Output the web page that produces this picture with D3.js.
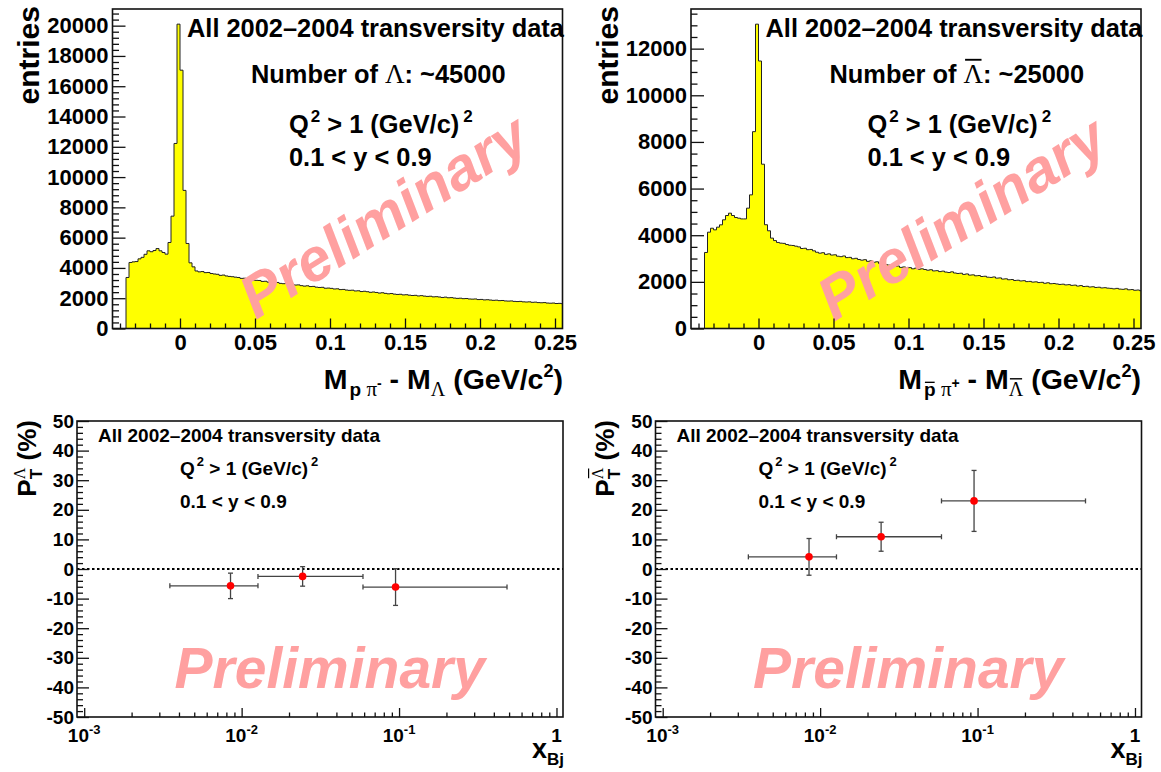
<!DOCTYPE html>
<html><head><meta charset="utf-8">
<script src="https://cdn.jsdelivr.net/npm/d3@7"></script>
<style>
html,body{margin:0;padding:0;background:#fff;}
svg{display:block;}
</style></head><body>
<svg id="c" width="1161" height="772"></svg>
<script>
// ---------------- data ----------------
const binStart = -0.036;
const binWidth = 0.002;
const lambdaCounts = [
 3370,4360,4400,4420,4600,4700,4900,5130,5070,5150,
 5280,5130,5020,4910,5680,7420,12220,20100,17060,9120,
 5615,4335,4070,3800,3740,3760,3690,3700,3630,3600,
 3580,3510,3530,3470,3440,3420,3390,3370,3310,3320,
 3270,3250,3190,3180,3170,3110,3120,3060,3070,3030,
 3040,2980,2960,2970,2910,2920,2870,2880,2830,2800,
 2820,2770,2780,2730,2710,2720,2660,2670,2650,2610,
 2620,2570,2580,2540,2520,2530,2480,2490,2440,2460,
 2430,2390,2410,2380,2340,2360,2320,2290,2310,2270,
 2250,2260,2220,2230,2200,2180,2190,2150,2170,2140,
 2120,2130,2090,2100,2080,2050,2070,2030,2040,2010,
 1990,2000,1970,1980,1950,1940,1950,1910,1920,1890,
 1900,1880,1860,1870,1840,1850,1820,1810,1820,1790,
 1780,1790,1760,1750,1760,1730,1740,1710,1700,1710,
 1680,1670,1680,1650,1660,1640];
const antiLambdaCounts = [
 3260,4130,4300,4230,4345,4445,4660,4845,4945,4845,
 4760,4730,4700,4700,5160,5730,8440,13050,11470,7045,
 4450,4190,3875,3770,3690,3660,3650,3600,3570,3560,
 3530,3500,3430,3440,3380,3390,3330,3270,3230,3250,
 3180,3200,3150,3160,3100,3080,3110,3040,3050,2990,
 3010,2960,2930,2950,2880,2900,2840,2860,2790,2810,
 2740,2720,2700,2660,2680,2620,2640,2600,2610,2560,
 2590,2540,2560,2530,2500,2520,2470,2480,2440,2460,
 2420,2400,2430,2380,2360,2370,2320,2340,2290,2300,
 2260,2270,2230,2240,2200,2190,2210,2160,2170,2120,
 2130,2090,2100,2060,2070,2040,2050,2010,2020,1990,
 2000,1970,1980,1940,1960,1920,1930,1910,1890,1900,
 1870,1880,1850,1860,1820,1840,1800,1810,1780,1790,
 1760,1770,1740,1750,1730,1720,1700,1720,1690,1680,
 1700,1660,1670,1640,1650,1620];
const massTicks = [0, 0.05, 0.1, 0.15, 0.2, 0.25];
const lambdaEntryTicks = [0,2000,4000,6000,8000,10000,12000,14000,16000,18000,20000];
const antiEntryTicks = [0,2000,4000,6000,8000,10000,12000];
const xBj = [0.0085, 0.0244, 0.095];
const xBjLow = [0.0035, 0.0127, 0.059];
const xBjHigh = [0.0127, 0.059, 0.485];
const polLambda = [-5.7, -2.5, -6.1];
const polLambdaErr = [4.3, 3.3, 6.2];
const polAntiLambda = [4.1, 10.9, 23.0];
const polAntiLambdaErr = [6.2, 4.9, 10.3];
const polTicks = [-50,-40,-30,-20,-10,0,10,20,30,40,50];
const xBjDecades = [0.001, 0.01, 0.1, 1];
const xBjDecadeExp = ['-3','-2','-1',''];

// ---------------- helpers ----------------
const svg = d3.select('#c');
const FONT = '"Liberation Sans", Arial, Helvetica, sans-serif';
const SERIF = '"Liberation Serif", "DejaVu Serif", serif';
const INK = '#111';

function rich(parent, x, y, segs, o) {
  o = Object.assign({size: 20, weight: 'bold', fill: '#000', anchor: 'start', rotate: 0, style: 'normal'}, o);
  const outer = parent.append('g').attr('transform', `translate(${x},${y}) rotate(${o.rotate})`);
  const g = outer.append('g');
  let cx = 0, lastStart = 0;
  segs.forEach(s => {
    const size = s.size || o.size;
    const sx = s.stack ? lastStart : cx + (s.dx || 0);
    const t = g.append('text')
      .attr('x', sx).attr('y', s.dy || 0)
      .attr('font-family', s.serif ? SERIF : FONT)
      .attr('font-size', size)
      .attr('font-weight', s.weight || (s.serif ? 'normal' : o.weight))
      .attr('font-style', s.style || o.style)
      .attr('fill', o.fill)
      .style('white-space', 'pre')
      .text(s.t);
    const w = t.node().getComputedTextLength();
    if (s.over) {
      const oy = (s.dy || 0) - size * (s.overH || 0.82);
      g.append('line').attr('x1', sx + w * 0.08).attr('x2', sx + w * 0.92)
        .attr('y1', oy).attr('y2', oy)
        .attr('stroke', o.fill).attr('stroke-width', Math.max(1.2, size * 0.07));
    }
    if (!s.stack) lastStart = sx;
    cx = Math.max(cx, sx + w);
  });
  const shift = o.anchor === 'end' ? -cx : (o.anchor === 'middle' ? -cx / 2 : 0);
  g.attr('transform', `translate(${shift},0)`);
  return outer;
}

function styleAxis(sel, fontSize) {
  sel.select('.domain').remove();
  sel.selectAll('line').attr('stroke', INK).attr('stroke-width', 1.3);
  sel.selectAll('text').attr('font-family', FONT).attr('font-weight', 'bold')
    .attr('font-size', fontSize).attr('fill', '#000');
  sel.attr('font-family', null).attr('font-size', null);
}

function frame(P) {
  svg.append('rect').attr('x', P.l).attr('y', P.t).attr('width', P.r - P.l).attr('height', P.b - P.t)
    .attr('fill', 'none').attr('stroke', INK).attr('stroke-width', 1.6);
}

// ---------------- histogram panels ----------------
function histPanel(P, counts, yMax, id) {
  const x = d3.scaleLinear().domain([-0.045, 0.255]).range([P.l, P.r]);
  const y = d3.scaleLinear().domain([0, yMax]).range([P.b, P.t]);
  const pts = counts.map((c, i) => ({e: binStart + i * binWidth, v: c}));
  pts.push({e: binStart + counts.length * binWidth, v: counts[counts.length - 1]});
  svg.append('clipPath').attr('id', id).append('rect')
    .attr('x', P.l).attr('y', P.t).attr('width', P.r - P.l).attr('height', P.b - P.t);
  const g = svg.append('g').attr('clip-path', `url(#${id})`);
  g.append('path').datum(pts)
    .attr('d', d3.area().curve(d3.curveStepAfter).x(d => x(d.e)).y0(y(0)).y1(d => y(d.v)))
    .attr('fill', '#ffff00');
  g.append('path').datum([{e: binStart, v: 0}].concat(pts))
    .attr('d', d3.line().curve(d3.curveStepAfter).x(d => x(d.e)).y(d => y(d.v)))
    .attr('fill', 'none').attr('stroke', '#222').attr('stroke-width', 1);
  return {x, y};
}

function histAxes(P, sc, yMajor, yMinorStep, yMax) {
  const yMinor = d3.range(0, yMax, yMinorStep).filter(v => yMajor.indexOf(v) < 0);
  const gy1 = svg.append('g').attr('transform', `translate(${P.l},0)`)
    .call(d3.axisLeft(sc.y).tickValues(yMinor).tickSize(-6.5).tickFormat(''));
  styleAxis(gy1, 22);
  const gy2 = svg.append('g').attr('transform', `translate(${P.l},0)`)
    .call(d3.axisLeft(sc.y).tickValues(yMajor).tickSize(-13).tickPadding(4).tickFormat(d => String(d)));
  styleAxis(gy2, 22);
  const xMinor = d3.range(-4, 26).map(k => k / 100).filter(v => massTicks.indexOf(v) < 0);
  const gx1 = svg.append('g').attr('transform', `translate(0,${P.b})`)
    .call(d3.axisBottom(sc.x).tickValues(xMinor).tickSize(-5).tickFormat(''));
  styleAxis(gx1, 22);
  const gx2 = svg.append('g').attr('transform', `translate(0,${P.b})`)
    .call(d3.axisBottom(sc.x).tickValues(massTicks).tickSize(-10).tickPadding(6).tickFormat(d => String(d)));
  styleAxis(gx2, 22);
}

const TL = {l: 112.5, r: 562.5, t: 9, b: 328.5};
const TR = {l: 691, r: 1141, t: 9, b: 328.5};
const BL = {l: 77, r: 563, t: 421, b: 717};
const BR = {l: 655.5, r: 1141.5, t: 421, b: 717};

const sTL = histPanel(TL, lambdaCounts, 21100, 'clipTL');
rich(svg, 256, 320, [{t: 'Preliminary'}], {size: 60, style: 'italic', fill: '#ffa0a0', rotate: -32});
histAxes(TL, sTL, lambdaEntryTicks, 400, 21100);
frame(TL);

const sTR = histPanel(TR, antiLambdaCounts, 13700, 'clipTR');
rich(svg, 834, 322, [{t: 'Preliminary'}], {size: 60, style: 'italic', fill: '#ffa0a0', rotate: -32});
histAxes(TR, sTR, antiEntryTicks, 500, 13700);
frame(TR);

// top texts
function topTexts(dx, bar) {
  rich(svg, 187 + dx, 37, [{t: 'All 2002\u20132004 transversity data'}], {size: 25.4});
  rich(svg, 251 + dx, 83, [{t: 'Number of '}, {t: '\u039B', serif: true, size: 27, over: bar, overH: 0.86}, {t: ': ~' + (bar ? '25000' : '45000')}], {size: 25.4});
  rich(svg, 289 + dx, 133, [{t: 'Q'}, {t: '2', size: 17, dy: -11, dx: 2}, {t: ' > 1 (GeV/c)'}, {t: '2', size: 17, dy: -11, dx: 4}], {size: 25.4});
  rich(svg, 289 + dx, 166, [{t: '0.1 < y < 0.9'}], {size: 25.4});
}
topTexts(0, false);
topTexts(578.5, true);

rich(svg, 39, 6, [{t: 'entries'}], {size: 30, rotate: -90, anchor: 'end'});
rich(svg, 617.5, 6, [{t: 'entries'}], {size: 30, rotate: -90, anchor: 'end'});

rich(svg, 563, 389, [
  {t: 'M'}, {t: 'p', size: 19, dy: 7, dx: 2}, {t: ' ', size: 19}, {t: '\u03C0', serif: true, size: 21, dy: 7},
  {t: '-', size: 14, dy: -1}, {t: ' - M'}, {t: '\u039B', serif: true, size: 20, dy: 7},
  {t: ' (GeV/c'}, {t: '2', size: 18, dy: -12}, {t: ')'}], {size: 28.5, anchor: 'end'});
rich(svg, 1141, 389, [
  {t: 'M'}, {t: 'p', size: 19, dy: 7, dx: 2, over: true, overH: 0.72}, {t: ' ', size: 19}, {t: '\u03C0', serif: true, size: 21, dy: 7},
  {t: '+', size: 14, dy: -1}, {t: ' - M'}, {t: '\u039B', serif: true, size: 20, dy: 7, over: true, overH: 0.86},
  {t: ' (GeV/c'}, {t: '2', size: 18, dy: -12}, {t: ')'}], {size: 28.5, anchor: 'end'});

// ---------------- polarisation panels ----------------
function polPanel(P, vals, errs, bar) {
  const x = d3.scaleLog().domain([0.0009, 1.1]).range([P.l, P.r]);
  const y = d3.scaleLinear().domain([-50, 50]).range([P.b, P.t]);

  rich(svg, P.l + 97.5, 688, [{t: 'Preliminary'}], {size: 57, style: 'italic', fill: '#ffa0a0'});

  // zero line
  svg.append('line').attr('x1', P.l).attr('x2', P.r).attr('y1', y(0)).attr('y2', y(0))
    .attr('stroke', '#000').attr('stroke-width', 2.2).attr('stroke-dasharray', '2.5,2.5');

  // axes
  const yMinor = d3.range(-50, 51, 2).filter(v => polTicks.indexOf(v) < 0);
  const gy1 = svg.append('g').attr('transform', `translate(${P.l},0)`)
    .call(d3.axisLeft(y).tickValues(yMinor).tickSize(-6).tickFormat(''));
  styleAxis(gy1, 19);
  const gy2 = svg.append('g').attr('transform', `translate(${P.l},0)`)
    .call(d3.axisLeft(y).tickValues(polTicks).tickSize(-12).tickPadding(3).tickFormat(d => String(d)));
  styleAxis(gy2, 19);
  const xMinor = [];
  [0.0001, 0.001, 0.01, 0.1].forEach(d => { for (let k = 2; k <= 9; k++) { const v = k * d; if (v > 0.00091 && v < 1.1) xMinor.push(v); } });
  const gx1 = svg.append('g').attr('transform', `translate(0,${P.b})`)
    .call(d3.axisBottom(x).tickValues(xMinor).tickSize(-4.5).tickFormat(''));
  styleAxis(gx1, 19);
  const gx2 = svg.append('g').attr('transform', `translate(0,${P.b})`)
    .call(d3.axisBottom(x).tickValues(xBjDecades).tickSize(-9).tickFormat(''));
  styleAxis(gx2, 19);
  xBjDecades.forEach((v, i) => {
    const segs = xBjDecadeExp[i] ? [{t: '10'}, {t: xBjDecadeExp[i], size: 13, dy: -8}] : [{t: '1'}];
    rich(svg, x(v), 741.5, segs, {size: 19, anchor: 'middle'});
  });

  // points
  const g = svg.append('g');
  vals.forEach((v, i) => {
    const cx = x(xBj[i]), cy = y(v);
    const col = '#444';
    g.append('line').attr('x1', x(xBjLow[i])).attr('x2', x(xBjHigh[i])).attr('y1', cy).attr('y2', cy)
      .attr('stroke', col).attr('stroke-width', 1.3);
    [xBjLow[i], xBjHigh[i]].forEach(e => g.append('line').attr('x1', x(e)).attr('x2', x(e))
      .attr('y1', cy - 2.5).attr('y2', cy + 2.5).attr('stroke', col).attr('stroke-width', 1.3));
    g.append('line').attr('x1', cx).attr('x2', cx).attr('y1', y(v - errs[i])).attr('y2', y(v + errs[i]))
      .attr('stroke', col).attr('stroke-width', 1.3);
    [v - errs[i], v + errs[i]].forEach(e => g.append('line').attr('x1', cx - 2.5).attr('x2', cx + 2.5)
      .attr('y1', y(e)).attr('y2', y(e)).attr('stroke', col).attr('stroke-width', 1.3));
    g.append('circle').attr('cx', cx).attr('cy', cy).attr('r', 3.8).attr('fill', '#ff0000');
  });

  frame(P);

  rich(svg, P.l + 21, 442, [{t: 'All 2002\u20132004 transversity data'}], {size: 19});
  rich(svg, P.l + 103, 475, [{t: 'Q'}, {t: '2', size: 13, dy: -9, dx: 2}, {t: ' > 1 (GeV/c)'}, {t: '2', size: 13, dy: -9, dx: 3}], {size: 19});
  rich(svg, P.l + 103, 508, [{t: '0.1 < y < 0.9'}], {size: 19});

  rich(svg, P.l - 41.5, 420, [{t: 'P'}, {t: 'T', size: 17, dy: 6}, {t: '\u039B', serif: true, size: 16, dy: -11, stack: true, over: bar, overH: 0.9}, {t: ' (%)'}],
    {size: 26, rotate: -90, anchor: 'end'});
  rich(svg, P.r + 1, 758, [{t: 'x'}, {t: 'Bj', size: 17, dy: 7}], {size: 27, anchor: 'end'});
}
polPanel(BL, polLambda, polLambdaErr, false);
polPanel(BR, polAntiLambda, polAntiLambdaErr, true);
</script>
</body></html>
